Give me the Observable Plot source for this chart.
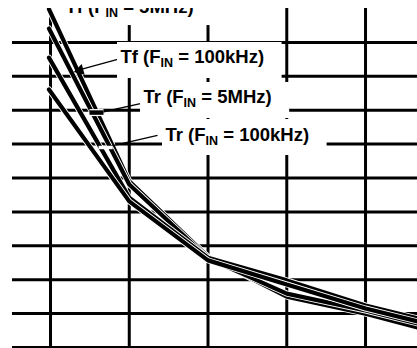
<!DOCTYPE html>
<html><head><meta charset="utf-8">
<script src="https://cdn.jsdelivr.net/npm/d3@7"></script>
<script src="https://cdn.jsdelivr.net/npm/@observablehq/plot@0.6"></script>
<style>html,body{margin:0;padding:0;background:#fff}#chart svg{display:block}</style>
</head><body><div id="chart"></div>
<script>
// Grid (chart units: columns 0..4, rows 0..10)
const xGrid = [0, 1, 2, 3, 4];
const yGrid = [0, 1, 2, 3, 4, 5, 6, 7, 8, 9];
const xView = [-0.635, 4.66];
const yView = [0, 10];
const frameLeft = -0.483;

// Curve sample positions and values
const xPts = [-0.02, 1, 2, 3, 4, 4.66];
const tf5MHz = [9.98, 4.90, 2.68, 1.50, 1.00, 0.59];
const tf100kHz = [9.41, 4.81, 2.63, 1.59, 1.09, 0.71];
const tr5MHz = [8.55, 4.42, 2.65, 1.98, 1.24, 0.86];
const tr100kHz = [7.61, 4.31, 2.57, 1.86, 1.15, 0.77];
const seriesNames = ["Tf (F_IN = 5MHz)", "Tf (F_IN = 100kHz)", "Tr (F_IN = 5MHz)", "Tr (F_IN = 100kHz)"];
const seriesValues = [tf5MHz, tf100kHz, tr5MHz, tr100kHz];

// Annotation labels
const labelX = [0.190, 0.889, 1.181, 1.460];
const labelY = [9.88, 8.378, 7.198, 6.106];
// Leader lines
const leaderX1 = [0.851, 1.156, 1.359];
const leaderY1 = [8.496, 7.198, 6.254];
const leaderX2 = [0.400, 0.635, 0.698];
const leaderY2 = [8.21, 6.932, 5.900];
const arrowTip = {x: 0.375, y: 8.18};
const blackTick = {x1: 0.495, x2: 0.673, y: 6.93};
const whiteTick = {x1: 0.61, x2: 0.79, y: 5.90};

const curves = seriesNames.map((name, k) => xPts.map((x, i) => ({name, x, y: seriesValues[k][i]})));
const labels = seriesNames.map((t, i) => ({text: t, x: labelX[i], y: labelY[i]}));
const leaders = leaderX1.map((x1, i) => ({x1, y1: leaderY1[i], x2: leaderX2[i], y2: leaderY2[i]}));

const FONT = "'Liberation Sans', Arial, Helvetica, sans-serif";

const plot = Plot.plot({
  width: 417, height: 348,
  marginTop: 8, marginBottom: 1, marginLeft: 0, marginRight: 0,
  x: {domain: xView, axis: null},
  y: {domain: yView, axis: null},
  style: {background: "white", fontFamily: FONT},
  marks: [
    Plot.ruleY(yGrid, {x1: frameLeft, x2: xView[1], stroke: "black", strokeWidth: 3}),
    Plot.ruleX(xGrid, {y1: yView[0], y2: yView[1], stroke: "black", strokeWidth: 3}),
    ...curves.flatMap(c => [
      Plot.line(c, {x: "x", y: "y", stroke: "white", strokeWidth: 6, strokeLinejoin: "miter", clip: true}),
      Plot.line(c, {x: "x", y: "y", stroke: "black", strokeWidth: 4.2, strokeLinejoin: "miter", clip: true})
    ]),
    Plot.link(leaders, {x1: "x1", y1: "y1", x2: "x2", y2: "y2", stroke: "black", strokeWidth: 1.3}),
    Plot.dot([arrowTip], {x: "x", y: "y", symbol: "triangle", r: 4.2, fill: "black", stroke: "none", rotate: 255}),
    Plot.link([blackTick], {x1: "x1", x2: "x2", y1: "y", y2: "y", stroke: "white", strokeWidth: 7}),
    Plot.link([blackTick], {x1: "x1", x2: "x2", y1: "y", y2: "y", stroke: "black", strokeWidth: 4.5}),
    Plot.link([whiteTick], {x1: "x1", x2: "x2", y1: "y", y2: "y", stroke: "white", strokeWidth: 3.5}),
    Plot.text(labels, {x: "x", y: "y", text: "text", textAnchor: "start", lineAnchor: "bottom",
      fontSize: 18.5, fontWeight: "bold", fontFamily: FONT, fill: "black"})
  ]
});
document.getElementById("chart").appendChild(plot);

// Subscripts and white label backgrounds
const xs = plot.scale("x"), ys = plot.scale("y");
const textGroup = plot.querySelector('g[aria-label="text"]');
const ns = "http://www.w3.org/2000/svg";
const frameTop = ys.apply(yView[1]);

const boxG = document.createElementNS(ns, "g");
textGroup.parentNode.insertBefore(boxG, textGroup);
textGroup.querySelectorAll("text").forEach((t, i) => {
  const s = t.textContent;
  const parts = s.split("_IN");
  t.textContent = "";
  const a = document.createElementNS(ns, "tspan"); a.textContent = parts[0];
  const b = document.createElementNS(ns, "tspan"); b.textContent = "IN";
  b.setAttribute("font-size", "12.5"); b.setAttribute("dy", "4");
  const c = document.createElementNS(ns, "tspan"); c.textContent = parts[1];
  c.setAttribute("dy", "-4");
  t.append(a, b, c);
  const w = t.getComputedTextLength();
  const px = xs.apply(labels[i].x), py = ys.apply(labels[i].y);
  const r = document.createElementNS(ns, "rect");
  const top = i === 0 ? -5 : py - 21;
  r.setAttribute("x", px - 3);
  r.setAttribute("width", w + 21);
  r.setAttribute("y", top);
  r.setAttribute("height", py + (i === 0 ? 13 : 15) - top);
  r.setAttribute("fill", "white");
  boxG.appendChild(r);
});

// The source graph is cropped at the top edge of its frame: mask everything above it
const mask = document.createElementNS(ns, "rect");
mask.setAttribute("x", 0); mask.setAttribute("y", -10);
mask.setAttribute("width", 417); mask.setAttribute("height", frameTop + 10);
mask.setAttribute("fill", "white");
plot.appendChild(mask);
</script>
</body></html>
